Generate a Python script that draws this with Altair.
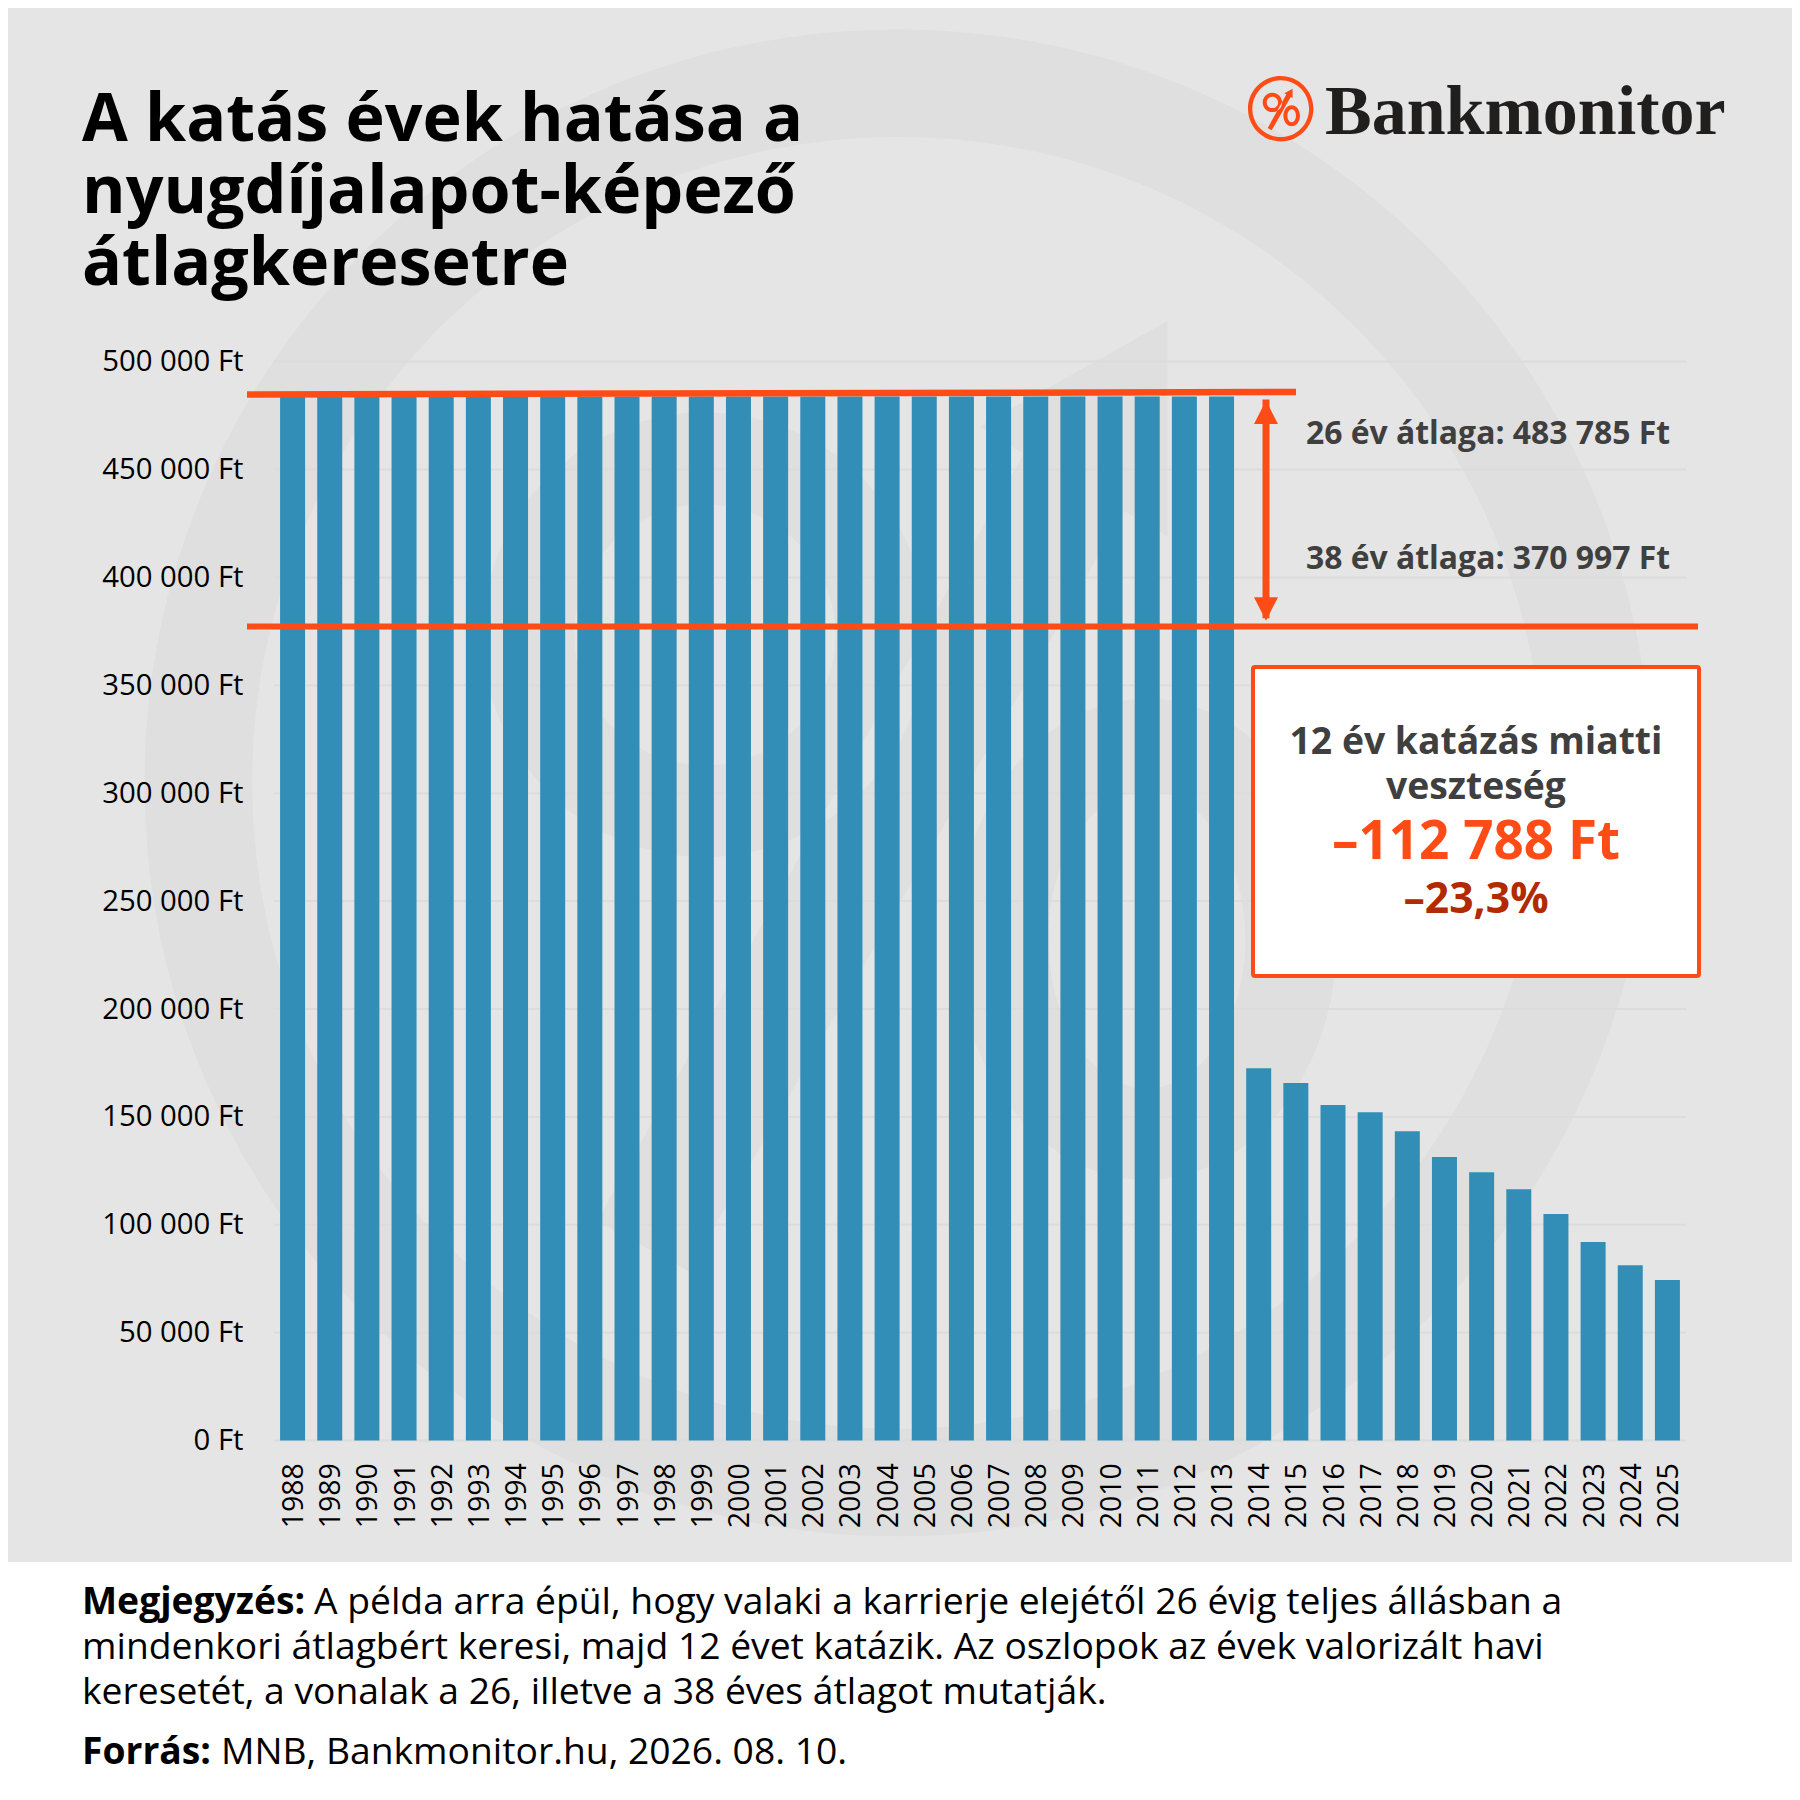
import altair as alt
import pandas as pd

years = [str(y) for y in range(1988, 2026)]
earnings = [483785] * 26 + [172600, 165700, 155500, 152200, 143400, 131400,
                            124400, 116500, 105000, 92000, 81300, 74400]
y_ticks = [0, 50000, 100000, 150000, 200000, 250000, 300000, 350000, 400000, 450000, 500000]
line_26 = [484800, 485900]
line_38 = [377200]
arrow_span = [482400, 381100]
title_lines = ["A katás évek hatása a", "nyugdíjalapot-képező", "átlagkeresetre"]
note_lines = ["A példa arra épül, hogy valaki a karrierje elejétől 26 évig teljes állásban a",
              "mindenkori átlagbért keresi, majd 12 évet katázik. Az oszlopok az évek valorizált havi",
              "keresetét, a vonalak a 26, illetve a 38 éves átlagot mutatják."]
note_head = "Megjegyzés:"
source_head = "Forrás:"
source_text = "MNB, Bankmonitor.hu, 2026. 08. 10."
avg_labels = ["26 év átlaga: 483 785 Ft", "38 év átlaga: 370 997 Ft"]
box_lines = ["12 év katázás miatti", "veszteség", "–112 788 Ft", "–23,3%"]
brand = "Bankmonitor"

ORANGE = "#FF4C17"
FONT = "Open Sans"
W, H = 1412, 1079
OX, OY = 274.0, 361.6
px = lambda v: v - OX
py = lambda v: v - OY
one = pd.DataFrame({"k": [0]})


def ell(cx, cy, rx, ry, sweep):
    return (f"M{cx - rx},{cy}A{rx},{ry} 0 1,{sweep} {cx + rx},{cy}"
            f"A{rx},{ry} 0 1,{sweep} {cx - rx},{cy}Z")


def ring(cx, cy, rx, ry, t):
    return ell(cx, cy, rx, ry, 1) + ell(cx, cy, rx - t, ry - t, 0)


ARROW = "M11.9,-20L3.7,-15.4L5.6,-14.2L-13,19.3L-9,21.5L10,-11.7L11.9,-10.6Z"
PCT = ring(-8.3, -6.3, 9.7, 9.7, 4) + ring(11, 7, 8.3, 10.5, 4) + ARROW


def sym(path, x, y, scale, color):
    return alt.Chart(one).mark_point(shape=path, filled=True, size=(2 * scale) ** 2,
                                     fill=color, opacity=1, strokeWidth=0).encode(
        x=alt.value(px(x)), y=alt.value(py(y)))


def txt(s, x, y, size, color="#000000", weight="normal", align="left", font=FONT):
    return alt.Chart(one).mark_text(text=s, font=font, fontSize=size, fontWeight=weight, fill=color,
                                    align=align, baseline="alphabetic").encode(
        x=alt.value(px(x)), y=alt.value(py(y)))


def box(x1, x2, y1, y2, **kw):
    return alt.Chart(one).mark_rect(**kw).encode(
        x=alt.value(px(x1)), x2=alt.value(px(x2)), y=alt.value(py(y1)), y2=alt.value(py(y2)))


y_scale = alt.Scale(domain=[0, 500000], nice=False)
y_axis = alt.Axis(
    values=y_ticks, title=None, grid=False, domain=False, ticks=False, zindex=1,
    labelFont=FONT, labelFontSize=29.3, labelColor="#000000", labelPadding=31,
    labelExpr="replace(format(datum.value, ','), /,/g, ' ') + ' Ft'")
y_enc = alt.Y("v:Q", scale=y_scale, axis=y_axis)

watermark = sym(ring(0.13, 0.17, 32.9, 32.9, 4.7) + PCT, 895, 779, 22.9, "#DFDFDF")

grid = alt.Chart(pd.DataFrame({"v": y_ticks})).mark_rule(color="#DCDCDC", strokeWidth=2).encode(y=y_enc)

bars = alt.Chart(pd.DataFrame({"year": years, "v": earnings})).mark_bar(color="#338EB7").encode(
    x=alt.X("year:N", sort=None,
            scale=alt.Scale(paddingInner=0.327, paddingOuter=0.1635),
            axis=alt.Axis(title=None, domain=False, ticks=False, zindex=1, labelAngle=270,
                          labelFont=FONT, labelFontSize=28.5, labelColor="#000000", labelPadding=22,
                          labelOffset=1.5, labelAlign="right", labelBaseline="middle")),
    y=y_enc)

red1 = alt.Chart(pd.DataFrame({"v": [line_26[0]], "v2": [line_26[1]]})).mark_rule(color=ORANGE, strokeWidth=6.5).encode(
    x=alt.value(px(247)), x2=alt.value(px(1296)), y=y_enc, y2="v2:Q")
red2 = alt.Chart(pd.DataFrame({"v": line_38})).mark_rule(color=ORANGE, strokeWidth=6).encode(
    x=alt.value(px(247)), x2=alt.value(px(1698)), y=y_enc)
shaft = alt.Chart(pd.DataFrame({"v": [arrow_span[0]], "v2": [arrow_span[1]]})).mark_rule(color=ORANGE, strokeWidth=7).encode(
    x=alt.value(px(1266)), y=y_enc, y2="v2:Q")
head_up = sym("M0,0L-12,23.5L12,23.5Z", 1266, 400.6, 1, ORANGE)
head_dn = sym("M0,0L-12,-23.5L12,-23.5Z", 1266, 620.7, 1, ORANGE)

layers = [
    watermark, grid, bars, red1, red2, shaft, head_up, head_dn,
    box(-8, 1800, 1562, 1790, fill="#FFFFFF"),
    box(1253, 1699, 667, 976, fill="#FFFFFF", stroke=ORANGE, strokeWidth=4, cornerRadius=2),
    sym(ring(0, 0, 32.7, 32.7, 4.3) + PCT, 1280.7, 108.7, 1, ORANGE),
    txt(brand, 1325, 134, 70, "#211F1E", "bold", font="Liberation Serif"),
]
for s, b in zip(title_lines, [141, 213, 285]):
    layers.append(txt(s, 82, b, 66.4, "#000000", "bold"))
for s, b in zip(avg_labels, [444, 568.5]):
    layers.append(txt(s, 1306, b, 31.9, "#3F3F3F", "bold"))
layers += [
    txt(box_lines[0], 1476, 754.4, 37.3, "#3F3F3F", "bold", "center"),
    txt(box_lines[1], 1476, 799, 37.3, "#3F3F3F", "bold", "center"),
    txt(box_lines[2], 1476, 859, 53, ORANGE, "bold", "center"),
    txt(box_lines[3], 1476, 913, 42.7, "#B12A00", "bold", "center"),
    txt(note_head, 82, 1614, 37.25, "#000000", "bold"),
    txt(note_lines[0], 314, 1614, 37.25),
    txt(note_lines[1], 82, 1659, 37.25),
    txt(note_lines[2], 82, 1704, 37.25),
    txt(source_head, 82, 1764, 37.25, "#000000", "bold"),
    txt(source_text, 221, 1764, 37.25),
]

chart = alt.layer(*layers).properties(
    width=W, height=H, background="#E5E5E5",
    padding={"left": 266, "top": 353.6, "right": 106, "bottom": 340.4},
    autosize=alt.AutoSizeParams(type="none"),
).configure_view(stroke=None)

chart.save("out.html", embed_options={"renderer": "svg", "actions": False})
